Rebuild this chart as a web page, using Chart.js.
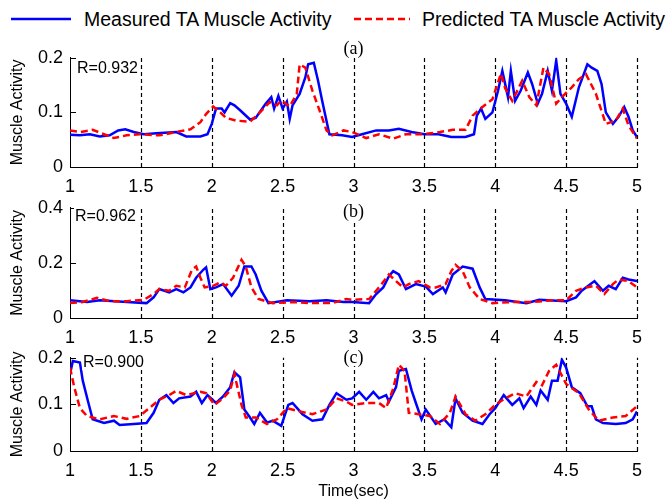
<!DOCTYPE html>
<html>
<head>
<meta charset="utf-8">
<script src="https://cdn.jsdelivr.net/npm/chart.js@4.4.1/dist/chart.umd.min.js"></script>
<style>
html,body{margin:0;padding:0;background:#fff;}
#wrap{position:relative;width:672px;height:502px;overflow:hidden;background:#fff;font-family:"Liberation Sans",Arial,sans-serif;}
canvas{position:absolute;left:0;}
.txt{position:absolute;white-space:nowrap;color:#000;line-height:1;}
.serif{font-family:"Liberation Serif","Times New Roman",serif;background:#fff;}
.rlab{background:#fff;padding:0 1px;}
</style>
</head>
<body>
<div id="wrap">
  <canvas id="ca"></canvas>
  <canvas id="cb"></canvas>
  <canvas id="cc"></canvas>

  <!-- legend -->
  <svg style="position:absolute;left:0;top:0" width="672" height="40">
    <line x1="11" y1="19" x2="71" y2="19" stroke="#0000ff" stroke-width="2.5"/>
    <line x1="354" y1="19" x2="410" y2="19" stroke="#ff0000" stroke-width="2.5" stroke-dasharray="7,4"/>
  </svg>
  <div class="txt" id="legM" style="left:84px;top:10px;font-size:19.5px;">Measured TA Muscle Activity</div>
  <div class="txt" id="legP" style="left:422px;top:10px;font-size:19.5px;">Predicted TA Muscle Activity</div>

  <!-- panel labels -->
  <div class="txt serif" style="left:343px;top:39px;font-size:18px;width:21px;text-align:center;">(a)</div>
  <div class="txt serif" style="left:343px;top:202px;font-size:18px;width:21px;text-align:center;">(b)</div>
  <div class="txt serif" style="left:343px;top:348px;font-size:18px;width:21px;text-align:center;">(c)</div>

  <!-- correlation labels -->
  <div class="txt rlab" style="left:76px;top:60px;font-size:16px;">R=0.932</div>
  <div class="txt rlab" style="left:74px;top:208px;font-size:16px;">R=0.962</div>
  <div class="txt rlab" style="left:82px;top:354px;font-size:16px;">R=0.900</div>
</div>

<script>
// ---------------- data ----------------
const xTicks = [1, 1.5, 2, 2.5, 3, 3.5, 4, 4.5, 5];
const xTickLabels = ['1', '1.5', '2', '2.5', '3', '3.5', '4', '4.5', '5'];

const yTicksA = [0, 0.1, 0.2];
const yTickLabelsA = ['0', '0.1', '0.2'];
const yTicksB = [0, 0.2, 0.4];
const yTickLabelsB = ['0', '0.2', '0.4'];
const yTicksC = [0, 0.1, 0.2];
const yTickLabelsC = ['0', '0.1', '0.2'];

const seriesNames = ['Measured TA Muscle Activity', 'Predicted TA Muscle Activity'];

// Panel (a)
const aMeasT = [1.00,1.07,1.14,1.21,1.28,1.34,1.39,1.45,1.52,1.61,1.75,1.82,1.92,1.97,2.00,2.03,2.07,2.09,2.13,2.16,2.20,2.27,2.31,2.38,2.42,2.44,2.47,2.50,2.53,2.55,2.57,2.62,2.66,2.68,2.72,2.75,2.78,2.83,2.92,2.99,
  3.06,3.16,3.25,3.32,3.41,3.50,3.60,3.69,3.79,3.85,3.87,3.90,3.93,3.98,4.02,4.05,4.09,4.11,4.14,4.18,4.23,4.26,4.30,4.33,4.37,4.40,4.43,4.46,4.50,4.54,4.59,4.65,4.68,4.72,4.75,4.78,4.83,4.87,4.91,4.94,4.97,5.00];
const aMeasV = [0.059,0.058,0.060,0.056,0.058,0.067,0.069,0.064,0.060,0.062,0.064,0.056,0.056,0.060,0.079,0.107,0.107,0.100,0.117,0.113,0.104,0.087,0.090,0.116,0.128,0.107,0.130,0.107,0.120,0.088,0.113,0.134,0.164,0.188,0.191,0.158,0.120,0.060,0.058,0.055,
  0.060,0.067,0.067,0.070,0.064,0.060,0.060,0.055,0.055,0.060,0.094,0.107,0.088,0.100,0.140,0.176,0.128,0.176,0.121,0.140,0.173,0.152,0.116,0.134,0.176,0.140,0.195,0.134,0.116,0.092,0.146,0.188,0.182,0.176,0.152,0.100,0.079,0.092,0.110,0.092,0.067,0.055];
const aPredT = [1.00,1.07,1.16,1.24,1.31,1.40,1.49,1.63,1.75,1.85,1.92,1.96,2.01,2.06,2.10,2.17,2.27,2.34,2.41,2.46,2.49,2.55,2.60,2.62,2.66,2.71,2.76,2.81,2.85,2.93,2.99,
  3.09,3.18,3.28,3.37,3.49,3.61,3.70,3.79,3.84,3.91,3.98,4.04,4.07,4.12,4.19,4.24,4.29,4.34,4.38,4.43,4.47,4.54,4.59,4.64,4.71,4.78,4.85,4.90,4.94,5.00];
const aPredV = [0.067,0.064,0.068,0.060,0.053,0.058,0.060,0.058,0.064,0.069,0.082,0.097,0.111,0.100,0.090,0.085,0.083,0.100,0.119,0.113,0.122,0.111,0.134,0.188,0.182,0.140,0.104,0.067,0.058,0.067,0.064,
  0.053,0.060,0.052,0.060,0.060,0.064,0.068,0.068,0.094,0.110,0.124,0.171,0.144,0.121,0.158,0.128,0.113,0.182,0.170,0.116,0.128,0.146,0.161,0.170,0.134,0.079,0.085,0.107,0.076,0.052];

// Panel (b)
const bMeasT = [1.00,1.12,1.21,1.40,1.54,1.59,1.63,1.70,1.75,1.80,1.85,1.89,1.94,1.96,1.99,2.03,2.08,2.14,2.19,2.23,2.28,2.31,2.35,2.40,2.53,2.69,2.81,2.93,2.99,
  3.11,3.16,3.21,3.25,3.28,3.32,3.37,3.44,3.51,3.56,3.63,3.65,3.70,3.77,3.84,3.89,3.93,4.07,4.22,4.31,4.50,4.57,4.61,4.70,4.76,4.80,4.85,4.90,4.94,5.00];
const bMeasV = [0.064,0.058,0.064,0.058,0.054,0.075,0.105,0.093,0.105,0.093,0.111,0.146,0.175,0.184,0.105,0.111,0.123,0.081,0.117,0.187,0.187,0.158,0.099,0.054,0.064,0.061,0.064,0.058,0.058,
  0.054,0.087,0.111,0.152,0.170,0.158,0.105,0.123,0.114,0.087,0.111,0.093,0.158,0.187,0.179,0.111,0.069,0.064,0.054,0.066,0.061,0.075,0.099,0.134,0.099,0.117,0.105,0.146,0.140,0.134];
const bPredT = [1.00,1.09,1.19,1.28,1.40,1.52,1.59,1.63,1.70,1.75,1.81,1.86,1.89,1.92,1.95,2.01,2.06,2.10,2.15,2.21,2.24,2.28,2.33,2.43,2.57,2.71,2.85,2.95,2.99,
  3.11,3.18,3.25,3.30,3.35,3.39,3.46,3.54,3.58,3.65,3.69,3.72,3.77,3.82,3.89,3.98,4.12,4.26,4.40,4.50,4.57,4.64,4.71,4.77,4.83,4.87,4.94,5.00];
const bPredV = [0.054,0.058,0.073,0.061,0.061,0.066,0.087,0.105,0.099,0.117,0.111,0.175,0.187,0.146,0.111,0.117,0.129,0.117,0.146,0.211,0.187,0.111,0.069,0.054,0.058,0.054,0.054,0.069,0.066,
  0.069,0.111,0.158,0.134,0.111,0.123,0.134,0.111,0.111,0.123,0.170,0.193,0.170,0.111,0.069,0.054,0.058,0.058,0.064,0.064,0.099,0.111,0.117,0.087,0.123,0.140,0.134,0.111];

// Panel (c)
const cMeasT = [1.00,1.02,1.07,1.09,1.13,1.16,1.24,1.31,1.35,1.45,1.54,1.59,1.63,1.68,1.73,1.77,1.85,1.89,1.93,1.97,2.03,2.08,2.13,2.16,2.20,2.23,2.27,2.30,2.34,2.39,2.43,2.49,2.54,2.57,2.64,2.71,2.78,2.83,2.88,2.95,2.99,
  3.04,3.09,3.14,3.18,3.23,3.25,3.30,3.32,3.37,3.41,3.44,3.48,3.51,3.58,3.64,3.69,3.72,3.77,3.84,3.91,3.96,4.00,4.06,4.12,4.17,4.20,4.25,4.29,4.32,4.37,4.40,4.44,4.47,4.50,4.54,4.60,4.65,4.68,4.71,4.76,4.85,4.92,4.97,5.00];
const cMeasV = [0.165,0.193,0.190,0.151,0.103,0.068,0.060,0.065,0.056,0.058,0.060,0.082,0.110,0.120,0.103,0.113,0.117,0.127,0.103,0.120,0.103,0.117,0.137,0.169,0.158,0.089,0.072,0.058,0.082,0.061,0.065,0.054,0.099,0.103,0.079,0.065,0.068,0.099,0.124,0.110,0.113,
  0.127,0.110,0.127,0.113,0.120,0.106,0.137,0.172,0.176,0.130,0.103,0.068,0.089,0.058,0.068,0.051,0.113,0.082,0.065,0.058,0.079,0.092,0.120,0.099,0.113,0.092,0.117,0.099,0.130,0.110,0.151,0.151,0.196,0.179,0.137,0.124,0.096,0.096,0.068,0.060,0.058,0.060,0.068,0.085];
const cPredT = [1.00,1.03,1.07,1.12,1.21,1.31,1.40,1.49,1.56,1.63,1.70,1.75,1.82,1.92,1.96,2.02,2.08,2.13,2.16,2.21,2.24,2.31,2.39,2.46,2.53,2.62,2.71,2.81,2.88,2.95,2.99,
  3.09,3.18,3.23,3.28,3.32,3.36,3.39,3.46,3.54,3.61,3.68,3.72,3.79,3.86,3.93,4.00,4.07,4.14,4.22,4.29,4.33,4.38,4.43,4.50,4.59,4.66,4.73,4.83,4.92,5.00];
const cPredV = [0.179,0.137,0.092,0.075,0.068,0.075,0.069,0.075,0.092,0.110,0.120,0.129,0.120,0.127,0.124,0.099,0.113,0.130,0.165,0.099,0.072,0.072,0.058,0.068,0.092,0.085,0.079,0.089,0.113,0.106,0.099,
  0.103,0.103,0.092,0.134,0.185,0.172,0.082,0.079,0.075,0.058,0.082,0.117,0.079,0.065,0.079,0.099,0.113,0.124,0.117,0.148,0.141,0.172,0.185,0.144,0.124,0.089,0.065,0.072,0.075,0.096];

// ---------------- drawing ----------------
const FONT = '"Liberation Sans", Arial, sans-serif';
const toXY = (t, v) => t.map((x, i) => ({x: x, y: v[i]}));

const matlabAxes = {
  id: 'matlabAxes',
  beforeDatasetsDraw(chart) {
    const {ctx, chartArea: a, scales: {x}} = chart;
    ctx.save();
    ctx.strokeStyle = '#000';
    ctx.lineWidth = 1.2;
    ctx.setLineDash([4, 3]);
    xTicks.slice(1).forEach(v => {
      const px = Math.round(x.getPixelForValue(v)) + 0.5;
      ctx.beginPath();
      ctx.moveTo(px, a.bottom);
      ctx.lineTo(px, a.top);
      ctx.stroke();
    });
    ctx.restore();
  },
  afterDatasetsDraw(chart) {
    const {ctx, chartArea: a, scales: {y}} = chart;
    ctx.save();
    ctx.strokeStyle = '#000';
    ctx.lineWidth = 1;
    y.ticks.forEach(t => {
      const py = Math.round(y.getPixelForValue(t.value)) + 0.5;
      ctx.beginPath();
      ctx.moveTo(a.left, py);
      ctx.lineTo(a.left + 6, py);
      ctx.stroke();
    });
    ctx.restore();
  }
};

function makePanel(id, top, padTop, areaH, axisH, yTicks, yLabels, meas, pred, xTitle) {
  const cv = document.getElementById(id);
  const H = padTop + areaH + axisH;
  cv.width = 672; cv.height = H;
  cv.style.width = '672px'; cv.style.height = H + 'px';
  cv.style.top = top + 'px';
  new Chart(cv, {
    type: 'line',
    data: {
      datasets: [
        {label: seriesNames[0], data: meas, borderColor: '#0000ff', borderWidth: 2.5,
         pointRadius: 0, tension: 0, fill: false, order: 2},
        {label: seriesNames[1], data: pred, borderColor: '#ff0000', borderWidth: 2.5,
         borderDash: [7, 4], pointRadius: 0, tension: 0, fill: false, order: 1}
      ]
    },
    options: {
      responsive: false, animation: false, devicePixelRatio: 1,
      layout: {padding: {top: padTop, right: 35, bottom: 0, left: 0}},
      plugins: {legend: {display: false}, tooltip: {enabled: false}},
      scales: {
        x: {
          type: 'linear', min: 1, max: 5,
          grid: {display: false, drawTicks: false},
          border: {display: true, color: '#000', width: 1},
          afterBuildTicks: s => { s.ticks = xTicks.map(v => ({value: v})); },
          afterFit: s => { s.height = axisH; },
          ticks: {color: '#000', font: {family: FONT, size: 18}, padding: 9,
                  autoSkip: false, maxRotation: 0,
                  callback: (v, i) => xTickLabels[i]},
          title: xTitle ? {display: true, text: xTitle, color: '#000',
                  font: {family: FONT, size: 16}, padding: {top: 0, bottom: 0}} : {display: false}
        },
        y: {
          min: yTicks[0], max: yTicks[yTicks.length - 1],
          grid: {display: false, drawTicks: false},
          border: {display: true, color: '#000', width: 1},
          afterBuildTicks: s => { s.ticks = yTicks.map(v => ({value: v})); },
          afterFit: s => { s.width = 70; },
          ticks: {color: '#000', font: {family: FONT, size: 18}, padding: 7,
                  callback: (v, i) => yLabels[i]},
          title: {display: true, text: 'Muscle Activity', color: '#000',
                  font: {family: FONT, size: 16}, padding: {top: 8, bottom: 0}}
        }
      }
    },
    plugins: [matlabAxes]
  });
}

makePanel('ca', 40, 16, 111, 30, yTicksA, yTickLabelsA, toXY(aMeasT, aMeasV), toXY(aPredT, aPredV), null);
makePanel('cb', 190, 15, 113, 30, yTicksB, yTickLabelsB, toXY(bMeasT, bMeasV), toXY(bPredT, bPredV), null);
makePanel('cc', 340, 14, 97, 50, yTicksC, yTickLabelsC, toXY(cMeasT, cMeasV), toXY(cPredT, cPredV), 'Time(sec)');
</script>
</body>
</html>
